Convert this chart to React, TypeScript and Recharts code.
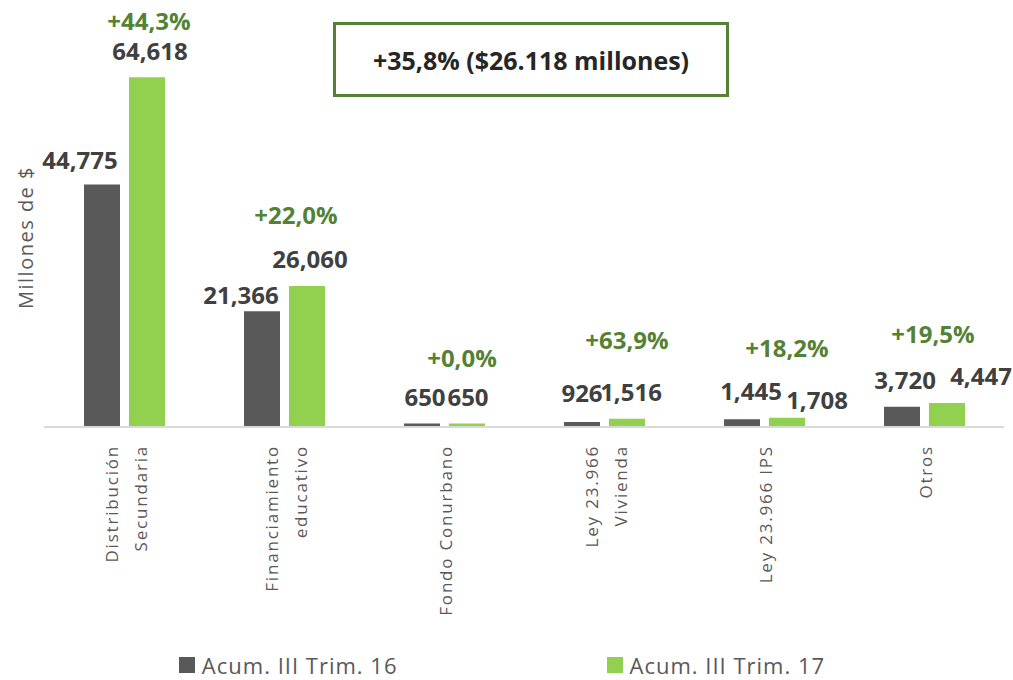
import React from "react";
import {
  BarChart,
  Bar,
  XAxis,
  YAxis,
  Legend,
  LabelList
} from "recharts";

const categories = [
  "Distribución\nSecundaria",
  "Financiamiento\neducativo",
  "Fondo Conurbano",
  "Ley 23.966\nVivienda",
  "Ley 23.966 IPS",
  "Otros"
];
const trim16 = [44775, 21366, 650, 926, 1445, 3720];
const trim17 = [64618, 26060, 650, 1516, 1708, 4447];
const variation = ["+44,3%", "+22,0%", "+0,0%", "+63,9%", "+18,2%", "+19,5%"];
const totalNote = "+35,8% ($26.118 millones)";
const seriesNames = ["Acum. III Trim. 16", "Acum. III Trim. 17"];

const data = categories.map((name, i) => ({
  name,
  t16: trim16[i],
  t17: trim17[i],
  pct: variation[i]
}));

const DARK = "#595959";
const GREEN = "#92d050";
const PCT_GREEN = "#548235";
const FONT = "'Open Sans', sans-serif";

// manual nudges for labels, like the hand-placed ones in the original
const nudge16 = { dx: [-22, -21, 3, 0, 9, 3], dy: [2, 10, 0, -2, -2, 0] };
const nudge17 = { dx: [3, 3, 1, 4, 30, 34], dy: [0, 0, 0, 0, 9, 0] };
const nudgePct = { dx: [2, -11, -5, 0, 0, -14], dy: [0, -1, 4, -9, 0, 1] };

function valueLabel(p: any, n: { dx: number[]; dy: number[] }) {
  const i = p.index ?? 0;
  const cx = Number(p.x) + Number(p.width) / 2 + n.dx[i];
  const cy = Number(p.y) - 27 + n.dy[i];
  return (
    <text
      x={cx}
      y={cy}
      textAnchor="middle"
      dominantBaseline="central"
      fontFamily={FONT}
      fontWeight={700}
      fontSize={24}
      fill="#404040"
    >
      {Number(p.value).toLocaleString("en-US")}
    </text>
  );
}

function pctLabel(p: any) {
  const i = p.index ?? 0;
  const cx = Number(p.x) + Number(p.width) / 2 + nudgePct.dx[i];
  const cy = Math.max(Number(p.y) - 70, 20) + nudgePct.dy[i];
  return (
    <text
      x={cx}
      y={cy}
      textAnchor="middle"
      dominantBaseline="central"
      fontFamily={FONT}
      fontWeight={700}
      fontSize={24}
      fill={PCT_GREEN}
    >
      {p.value}
    </text>
  );
}

function CatTick(props: any) {
  const { x, y, payload } = props;
  const lines = String(payload.value).split("\n");
  return (
    <text
      transform={`translate(${x + 1},${y}) rotate(-90)`}
      textAnchor="end"
      dominantBaseline="central"
      fontFamily={FONT}
      fontSize={17}
      letterSpacing={1.8}
      fill={DARK}
    >
      {lines.map((l, i) => (
        <tspan key={i} x={0} y={(i - (lines.length - 1) / 2) * 29}>
          {l}
        </tspan>
      ))}
    </text>
  );
}

function LegendBox(props: any) {
  const items = props.payload || [];
  return (
    <div
      style={{
        display: "flex",
        justifyContent: "center",
        gap: 209,
        paddingTop: 13,
        fontFamily: FONT,
        fontSize: 22,
        lineHeight: "24px",
        letterSpacing: 1,
        color: DARK
      }}
    >
      {items.map((it: any, i: number) => (
        <div key={i} style={{ display: "flex", alignItems: "center" }}>
          <span
            style={{
              width: 16,
              height: 16,
              background: it.color,
              marginRight: 7,
              display: "inline-block"
            }}
          />
          {it.value}
        </div>
      ))}
    </div>
  );
}

export default function App() {
  return (
    <div
      style={{
        position: "absolute",
        left: 0,
        top: 0,
        width: 1013,
        height: 680,
        background: "#fff",
        fontFamily: FONT
      }}
    >
      <BarChart
        width={1013}
        height={680}
        data={data}
        margin={{ top: 48, right: 9, bottom: 0, left: 0 }}
        barSize={36}
        barGap={9}
      >
        <YAxis
          width={44}
          domain={[0, 70000]}
          tick={false}
          axisLine={false}
          tickLine={false}
          label={{
            content: (p: any) => {
              const vb = p.viewBox || {};
              return (
                <text
                  transform={`translate(${vb.x + 25},${vb.y + vb.height / 2}) rotate(-90)`}
                  textAnchor="middle"
                  dominantBaseline="central"
                  fontFamily={FONT}
                  fontSize={20}
                  letterSpacing={1.5}
                  fill={DARK}
                >
                  Millones de $
                </text>
              );
            }
          }}
        />
        <XAxis
          dataKey="name"
          height={213}
          interval={0}
          axisLine={{ stroke: "#d9d9d9", strokeWidth: 2 }}
          tickLine={false}
          tickSize={0}
          tickMargin={18}
          tick={<CatTick />}
        />
        <Legend verticalAlign="bottom" height={40} content={<LegendBox />} />
        <Bar dataKey="t16" name={seriesNames[0]} fill={DARK} isAnimationActive={false}>
          <LabelList dataKey="t16" content={(p: any) => valueLabel(p, nudge16)} />
        </Bar>
        <Bar dataKey="t17" name={seriesNames[1]} fill={GREEN} isAnimationActive={false}>
          <LabelList dataKey="t17" content={(p: any) => valueLabel(p, nudge17)} />
          <LabelList dataKey="pct" content={pctLabel} />
        </Bar>
      </BarChart>
      <div
        style={{
          position: "absolute",
          left: 333,
          top: 22,
          width: 396,
          height: 75,
          boxSizing: "border-box",
          border: `3px solid ${PCT_GREEN}`,
          display: "flex",
          alignItems: "center",
          justifyContent: "center",
          fontFamily: FONT,
          fontWeight: 700,
          fontSize: 25,
          color: "#262626"
        }}
      >
        {totalNote}
      </div>
    </div>
  );
}
